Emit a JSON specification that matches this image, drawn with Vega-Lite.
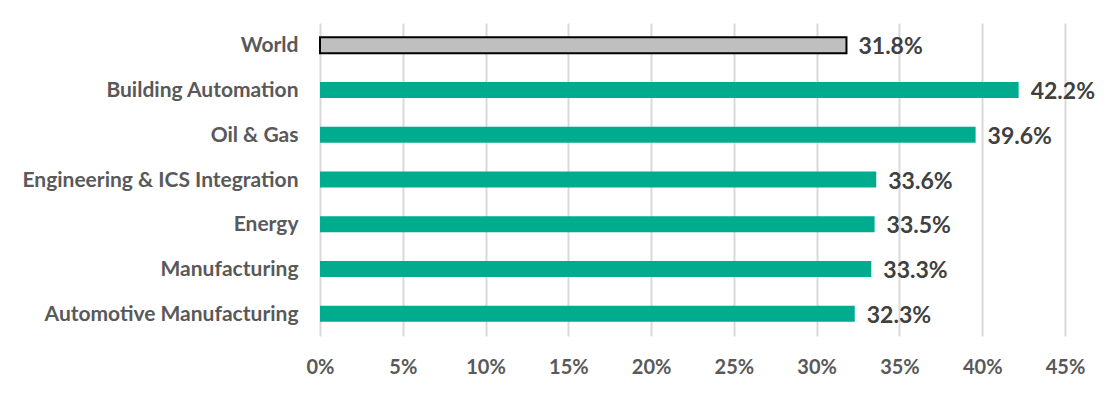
{
  "$schema": "https://vega.github.io/schema/vega-lite/v6.json",
  "autosize": "none",
  "width": 745,
  "height": 313,
  "padding": {"left": 320, "top": 23, "right": 44, "bottom": 58},
  "background": "#ffffff",
  "config": {
    "view": {"stroke": null},
    "font": "Lato"
  },
  "data": {
    "values": [
      {"category": "World", "value": 0.318, "group": "world"},
      {"category": "Building Automation", "value": 0.422, "group": "sector"},
      {"category": "Oil & Gas", "value": 0.396, "group": "sector"},
      {"category": "Engineering & ICS Integration", "value": 0.336, "group": "sector"},
      {"category": "Energy", "value": 0.335, "group": "sector"},
      {"category": "Manufacturing", "value": 0.333, "group": "sector"},
      {"category": "Automotive Manufacturing", "value": 0.323, "group": "sector"}
    ]
  },
  "encoding": {
    "y": {
      "field": "category",
      "type": "nominal",
      "sort": null,
      "scale": {"paddingInner": 0, "paddingOuter": 0},
      "axis": {
        "title": null,
        "domain": false,
        "ticks": false,
        "labelPadding": 22,
        "labelFont": "Lato",
        "labelFontSize": 21,
        "labelFontWeight": "bold",
        "labelColor": "#595959",
        "labelLimit": 400,
        "labelOffset": 1
      }
    },
    "x": {
      "field": "value",
      "type": "quantitative",
      "scale": {"domain": [0, 0.45], "nice": false},
      "axis": {
        "title": null,
        "format": ".0%",
        "values": [0, 0.05, 0.1, 0.15, 0.2, 0.25, 0.3, 0.35, 0.4, 0.45],
        "domain": false,
        "ticks": false,
        "grid": true,
        "gridColor": "#D9D9D9",
        "gridWidth": 2,
        "labelPadding": 21,
        "labelFont": "Lato",
        "labelFontSize": 20,
        "labelFontWeight": "bold",
        "labelColor": "#595959",
        "labelFlush": false
      }
    }
  },
  "layer": [
    {
      "mark": {"type": "bar", "size": 16},
      "encoding": {
        "color": {
          "field": "group",
          "type": "nominal",
          "scale": {"domain": ["world", "sector"], "range": ["#BFBFBF", "#00AB8E"]},
          "legend": null
        },
        "stroke": {
          "field": "group",
          "type": "nominal",
          "scale": {"domain": ["world", "sector"], "range": ["#000000", "#00AB8E"]},
          "legend": null
        },
        "strokeWidth": {
          "field": "group",
          "type": "nominal",
          "scale": {"domain": ["world", "sector"], "range": [2, 0]},
          "legend": null
        }
      }
    },
    {
      "mark": {"type": "text", "align": "left", "baseline": "middle", "dx": 12, "dy": 2, "fontSize": 23, "fontWeight": "bold", "color": "#404040", "font": "Lato"},
      "encoding": {
        "text": {"field": "value", "type": "quantitative", "format": ".1%"}
      }
    }
  ]
}
